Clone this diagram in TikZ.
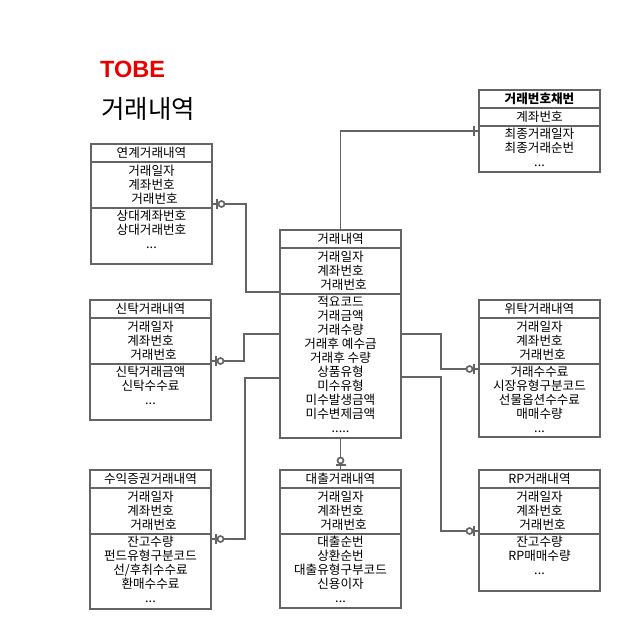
\documentclass[tikz,border=0pt]{standalone}
\usepackage{fontspec}
\setmainfont{Noto Sans CJK KR}
\newfontfamily\titelfont{Liberation Sans}
\usetikzlibrary{positioning,calc,decorations.markings}
\definecolor{linie}{RGB}{100,100,100}
\definecolor{rot}{RGB}{235,0,0}

\begin{document}
\begin{tikzpicture}[x=1pt,y=-1pt,
  kasten/.style={draw=linie,line width=1.7pt,minimum width=121pt,inner sep=0pt,outer sep=0pt,font=\fontsize{12.6}{14}\selectfont,align=center},
  kopf/.style={kasten,minimum height=18pt,anchor=north west},
  zeilen/.style={inner sep=0pt,font=\fontsize{12.6}{14}\selectfont,align=center},
  verb/.style={draw=linie,line width=1.7pt},
  nulleins/.style={verb,postaction={decorate},decoration={markings,
     mark=at position -5pt with {\draw[verb] (0pt,-5pt) -- (0pt,5pt);},
     mark=at position -9.5pt with {\draw[verb,fill=white] (0pt,0pt) circle (3pt);}}},
  eins/.style={verb,postaction={decorate},decoration={markings,
     mark=at position -5pt with {\draw[verb] (0pt,-5pt) -- (0pt,5pt);}}}]
%Rahmen wie im Original 622x630
\useasboundingbox (0,0) rectangle (622,630);
%Tabelle: Name, Ecke oben links, Kopf, Schluessel, Felder, Hoehe Schluessel, Hoehe Felder
\newcommand{\entitaet}[7]{%
  \node[kopf] (#1-k) at (#2) {#3};
  \node[kasten,minimum height=#6pt,below=0pt of #1-k] (#1-s) {#4};
  \node[kasten,minimum height=#7pt,below=0pt of #1-s] (#1-a) {};
  \node[zeilen,below=2pt of #1-a.north] (#1-t) {#5};}
\newcommand{\schluessel}{거래일자\\계좌번호\\\hspace{6pt}거래번호}
\node[font=\titelfont\bfseries\fontsize{23.5}{23.5}\selectfont,text=rot,anchor=base west,inner sep=0pt] (tobe) at (100,77) {TOBE};
\node[font=\fontsize{25.5}{25.5}\selectfont,anchor=base west,inner sep=0pt] (titel) at (101,118) {거래내역};
\entitaet{yk}{91,144}{연계거래내역}{\schluessel}{상대계좌번호\\상대거래번호\\...}{46}{56}
\entitaet{cb}{479,90}{\textbf{거래번호채번}}{계좌번호}{최종거래일자\\최종거래순번\\...}{18}{46}
\entitaet{main}{280,230}{거래내역}{\schluessel}{적요코드\\거래금액\\거래수량\\거래후 예수금\\거래후 수량\\상품유형\\미수유형\\미수발생금액\\미수변제금액\\.....}{46}{144}
\entitaet{st}{90,300}{신탁거래내역}{\schluessel}{신탁거래금액\\신탁수수료\\...}{46}{56}
\entitaet{wt}{479,300}{위탁거래내역}{\schluessel}{거래수수료\\시장유형구분코드\\선물옵션수수료\\매매수량\\...}{46}{73}
\entitaet{sj}{90,470}{수익증권거래내역}{\schluessel}{잔고수량\\펀드유형구분코드\\선/후취수수료\\환매수수료\\...}{46}{75}
\entitaet{dc}{280,470}{대출거래내역}{\schluessel}{대출순번\\상환순번\\대출유형구부코드\\신용이자\\...}{46}{74}
\entitaet{rp}{479,470}{RP거래내역}{\schluessel}{잔고수량\\RP매매수량\\...}{46}{57}
%Beziehungen
\draw[nulleins] ($(main-s.south west)+(0,-2)$) -- ++(-34,0) |- ($(yk-s.south east)+(0,-4)$);
\draw[nulleins] ($(main-a.north west)+(0,40)$) -- ++(-36,0) |- ($(st-s.south east)+(0,-3)$);
\draw[nulleins] ($(main-a.north west)+(0,84)$) -- ++(-35,0) |- ($(sj-s.south east)+(0,5)$);
\draw[eins] (main-k.north) |- ($(cb-s.south west)+(0,5)$);
\draw[nulleins] ($(main-a.north east)+(0,40)$) -- ++(40,0) |- ($(wt-s.south west)+(0,5)$);
\draw[nulleins] ($(main-a.north east)+(0,83)$) -- ++(40,0) |- ($(rp-s.south west)+(0,-3)$);
\draw[nulleins] (main-a.south) -- (dc-k.north);
\end{tikzpicture}
\end{document}
